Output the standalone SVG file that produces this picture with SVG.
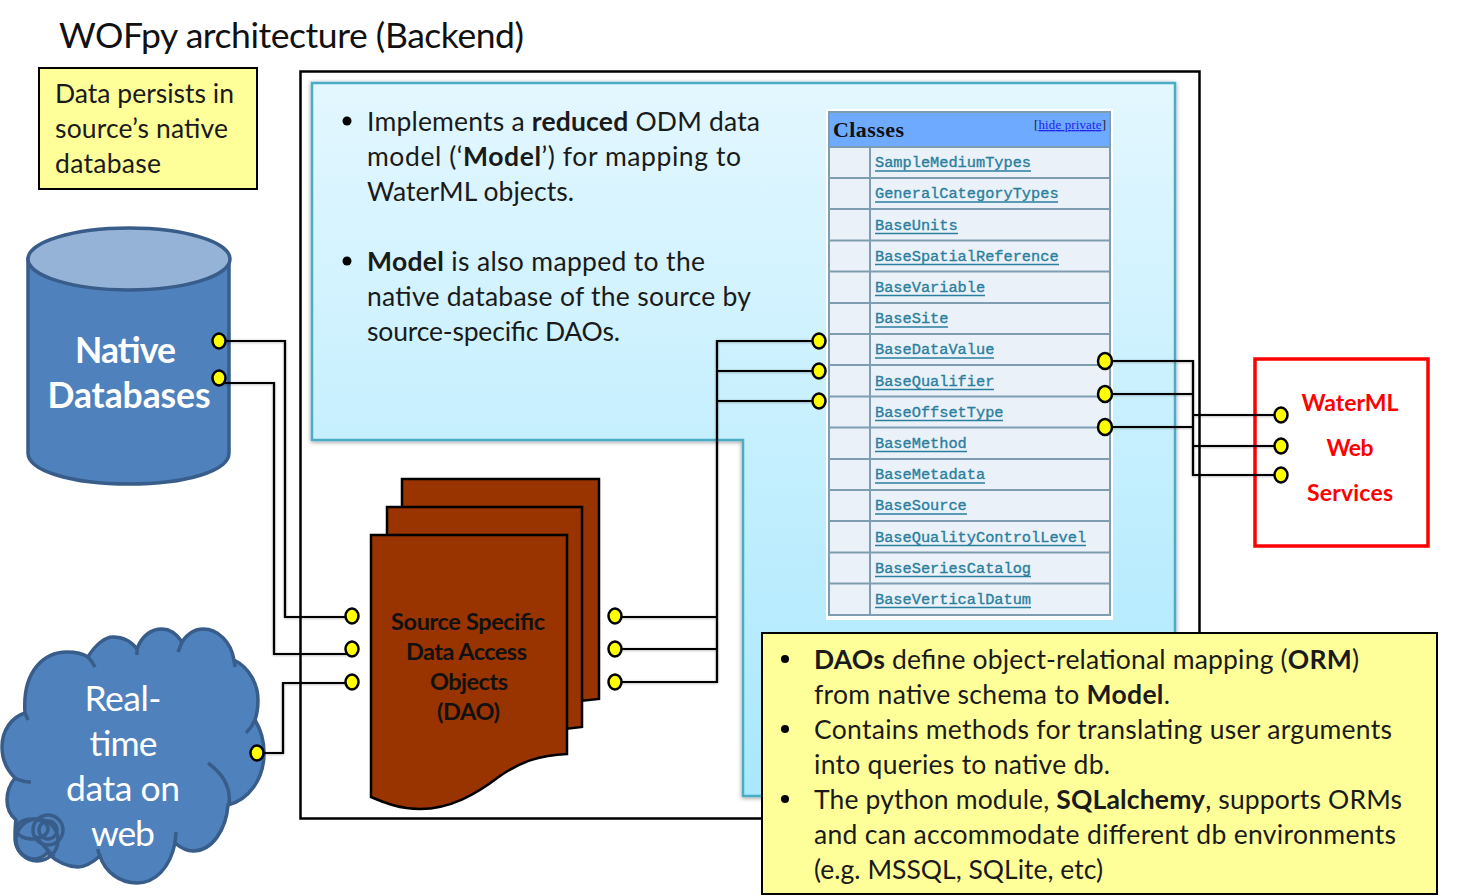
<svg xmlns="http://www.w3.org/2000/svg" width="1464" height="896" viewBox="0 0 1464 896">
<style>
text{font-family:"Lato","Carlito","Liberation Sans",sans-serif}
.body{font-size:26.5px;fill:#1a1a1a}
.b{font-weight:700}
.mid{text-anchor:middle}
.pin{fill:#ffff00;stroke:#000;stroke-width:2.5}
.wire{fill:none;stroke:#000;stroke-width:2.2}
.cls{font-family:"Liberation Mono","DejaVu Sans Mono",monospace;font-size:15.3px;fill:#2a7f9e;stroke:#2a7f9e;stroke-width:.35}
.ul{fill:none;stroke:#2a7f9e;stroke-width:1.6}
.rowl{fill:none;stroke:#7f9db0;stroke-width:2}
.doc{fill:#993300;stroke:#000;stroke-width:2.5}
.blue{fill:#4f81bd;stroke:#385d8a;stroke-width:3.5}
.line{fill:none;stroke:#385d8a;stroke-width:3.5}
.dao{font-size:23.5px;font-weight:700;fill:#111;text-anchor:middle}
.red{font-size:23px;font-weight:700;fill:#ff0000;text-anchor:middle}
.ser{font-family:"Liberation Serif",serif}
</style>
<defs>
<linearGradient id="lb" x1="0" y1="0" x2="0" y2="1">
<stop offset="0" stop-color="#e3f7ff"/><stop offset="1" stop-color="#a9e8fd"/>
</linearGradient>
<filter id="sh" x="-5%" y="-5%" width="110%" height="110%"><feDropShadow dx="0" dy="1" stdDeviation="2" flood-color="#000" flood-opacity=".4"/></filter>
<filter id="wsh" filterUnits="userSpaceOnUse" x="200" y="330" width="1100" height="440"><feDropShadow dx="0" dy="0.500" stdDeviation="0.800" flood-color="#000" flood-opacity=".35"/></filter>
</defs>
<rect width="1464" height="896" fill="#fff"/>
<text id="title" x="59" y="48" font-size="35.500" fill="#111" textLength="465">WOFpy architecture (Backend)</text>
<g id="note-persist">
<rect x="39" y="68" width="218" height="121" fill="#ffff99" stroke="#000" stroke-width="2"/>
<text class="body" x="55" y="103" textLength="179">Data persists in</text>
<text class="body" x="55" y="138" textLength="173">source’s native</text>
<text class="body" x="55" y="173" textLength="106">database</text>
</g>
<g id="backend-frame"><rect x="300.500" y="71.500" width="899" height="747" fill="#fff" stroke="#000" stroke-width="2.500"/></g>
<g id="model-panel">
<path d="M312 83H1175V796H743V440H312Z" fill="url(#lb)" stroke="#4bacc6" stroke-width="2.500" filter="url(#sh)"/>
<circle cx="347" cy="121" r="4.500" fill="#000"/>
<text class="body" x="367" y="131" textLength="393"><tspan>Implements a </tspan><tspan class="b">reduced</tspan><tspan> ODM data</tspan></text>
<text class="body" x="367" y="166" textLength="374"><tspan>model (‘</tspan><tspan class="b">Model</tspan><tspan>’) for mapping to</tspan></text>
<text class="body" x="367" y="201" textLength="207">WaterML objects.</text>
<circle cx="347" cy="261" r="4.500" fill="#000"/>
<text class="body" x="367" y="271" textLength="338"><tspan class="b">Model</tspan><tspan> is also mapped to the</tspan></text>
<text class="body" x="367" y="306" textLength="384">native database of the source by</text>
<text class="body" x="367" y="341" textLength="253">source-specific DAOs.</text>
</g>
<g id="classes-table">
<rect x="826" y="109" width="287" height="511" fill="#fff"/>
<rect x="829" y="112" width="281" height="503" fill="#ebf1f8" stroke="#7f9db0" stroke-width="2"/>
<rect x="829" y="112" width="281" height="35" fill="#6eaaff" stroke="#7f9db0" stroke-width="2"/>
<path class="rowl" d="M870 147V615M829 178H1110M829 209H1110M829 240.500H1110M829 271.500H1110M829 303H1110M829 334H1110M829 365H1110M829 396.500H1110M829 427.500H1110M829 459H1110M829 490H1110M829 521H1110M829 552.500H1110M829 583.500H1110"/>
<text class="ser" x="833" y="137" font-size="22" font-weight="700" fill="#111" textLength="71">Classes</text>
<text class="ser" x="1034" y="129" font-size="13" fill="#222" textLength="72">[<tspan fill="#2222ee" text-decoration="underline">hide private</tspan>]</text>
<text class="cls" x="875" y="167">SampleMediumTypes</text>
<text class="cls" x="875" y="198">GeneralCategoryTypes</text>
<text class="cls" x="875" y="229.500">BaseUnits</text>
<text class="cls" x="875" y="260.500">BaseSpatialReference</text>
<text class="cls" x="875" y="291.500">BaseVariable</text>
<text class="cls" x="875" y="323">BaseSite</text>
<text class="cls" x="875" y="354">BaseDataValue</text>
<text class="cls" x="875" y="385.500">BaseQualifier</text>
<text class="cls" x="875" y="416.500">BaseOffsetType</text>
<text class="cls" x="875" y="447.500">BaseMethod</text>
<text class="cls" x="875" y="479">BaseMetadata</text>
<text class="cls" x="875" y="510">BaseSource</text>
<text class="cls" x="875" y="541.500">BaseQualityControlLevel</text>
<text class="cls" x="875" y="572.500">BaseSeriesCatalog</text>
<text class="cls" x="875" y="603.500">BaseVerticalDatum</text>
<path class="ul" d="M875 171H1031M875 202H1058M875 233.500H958M875 264.500H1059M875 295.500H985M875 327H948M875 358H994M875 389.500H994M875 420.500H1003M875 451.500H967M875 483H985M875 514H967M875 545.500H1086M875 576.500H1031M875 607.500H1031"/>
</g>
<g id="native-databases">
<path class="blue" d="M28 259V453C28 471 72 484 129 484S229 471 229 453V259Z"/>
<ellipse cx="129" cy="259" rx="101" ry="31" fill="#95b3d7" stroke="#385d8a" stroke-width="3.500"/>
<text class="mid b" x="125.500" y="363" font-size="35.500" fill="#fff" textLength="101">Native</text>
<text class="mid b" x="129" y="408" font-size="35.500" fill="#fff" textLength="163">Databases</text>
</g>
<g id="realtime-web">
<path class="blue" d="M25 713C22 670 45 652 67 652C75 652 82 653 88 657C95 645 105 637 113 637C122 637 131 641 137 649C142 635 152 629 162 629C170 629 176 633 182 642C188 633 195 629 203 629C218 629 231 642 234 660C250 668 258 685 258 700C258 708 257 714 255 720C261 730 264 741 264 753C264 780 248 800 228 805C226 830 212 851 193 851C187 851 181 848 175 843C170 868 155 883 137 883C120 883 105 872 100 856C92 863 85 867 78 867C65 867 55 860 47 853C35 866 15 856 15 838C15 830 15 825 16 820C10 815 7 808 7 800C7 790 10 784 15 778C7 770 2 760 2 747C2 730 12 717 25 713Z"/>
<path class="line" d="M25 713L28 720M88 657Q92 661 95 667M137 649L137 655M182 642L178 652M234 660L235 667M255 720Q252 727 246 733M208 763Q232 780 229 805M175 843L176 832M100 856Q98 853 98 849M15 778Q22 782 31 782"/>
<g class="line"><circle cx="37" cy="840" r="21"/><ellipse cx="32" cy="829" rx="16" ry="10"/><circle cx="48" cy="830" r="15"/><circle cx="48" cy="830" r="9"/><path d="M35 836L54 857"/></g>
<g class="mid" font-size="35.500" fill="#fff"><text x="123" y="711" textLength="77">Real-</text><text x="123" y="756" textLength="68">time</text><text x="123" y="801" textLength="114">data on</text><text x="123" y="846" textLength="64">web</text></g>
</g>
<g id="dao-stack">
<path class="doc" d="M402 479H599V699L402 720Z"/>
<path class="doc" d="M387 507H582V727L387 750Z"/>
<path class="doc" d="M371 535H567V754C540 755 520 762 500 776C475 795 450 809 420 809C400 809 385 803 371 797Z"/>
<text class="dao" x="468" y="630" textLength="154">Source Specific</text>
<text class="dao" x="466.500" y="660" textLength="121">Data Access</text>
<text class="dao" x="469" y="690" textLength="78">Objects</text>
<text class="dao" x="468.500" y="720" textLength="63">(DAO)</text>
</g>
<g id="waterml-services">
<rect x="1255" y="359" width="173" height="187" fill="#fff" stroke="#ff0000" stroke-width="3.500"/>
<text class="red" x="1350" y="411" textLength="97">WaterML</text>
<text class="red" x="1350" y="456" textLength="47">Web</text>
<text class="red" x="1350" y="501" textLength="86">Services</text>
</g>
<g id="dao-note">
<rect x="762" y="633" width="675" height="261" fill="#ffff99" stroke="#000" stroke-width="2"/>
<g fill="#000"><circle cx="785" cy="659" r="4"/><circle cx="785" cy="729" r="4"/><circle cx="785" cy="799" r="4"/></g>
<text class="body" x="814" y="669" textLength="545"><tspan class="b">DAOs</tspan><tspan> define object-relational mapping (</tspan><tspan class="b">ORM</tspan><tspan>)</tspan></text>
<text class="body" x="814" y="704" textLength="356"><tspan>from native schema to </tspan><tspan class="b">Model</tspan><tspan>.</tspan></text>
<text class="body" x="814" y="739" textLength="578">Contains methods for translating user arguments</text>
<text class="body" x="814" y="774" textLength="296">into queries to native db.</text>
<text class="body" x="814" y="809" textLength="588"><tspan>The python module, </tspan><tspan class="b">SQLalchemy</tspan><tspan>, supports ORMs</tspan></text>
<text class="body" x="814" y="844" textLength="582">and can accommodate different db environments</text>
<text class="body" x="814" y="879" textLength="289">(e.g. MSSQL, SQLite, etc)</text>
</g>
<g id="connectors">
<g filter="url(#wsh)">
<path class="wire" d="M219 341H285V617H352M219 383H274V654H352M257 753H283V683H352"/>
<path class="wire" d="M615 617H717V341H819M615 649H717V371H819M615 682H717V401H819"/>
<path class="wire" d="M1105 361H1193V475H1281M1105 394H1193M1105 427H1193M1193 415H1281M1193 446H1281"/>
</g>
<g id="pins">
<ellipse class="pin" cx="219" cy="341" rx="6.500" ry="7.500"/><ellipse class="pin" cx="219" cy="378" rx="6.500" ry="7.500"/>
<ellipse class="pin" cx="257" cy="753" rx="6.500" ry="7.500"/>
<ellipse class="pin" cx="352" cy="616" rx="6.500" ry="7.500"/><ellipse class="pin" cx="352" cy="649" rx="6.500" ry="7.500"/><ellipse class="pin" cx="352" cy="682" rx="6.500" ry="7.500"/>
<ellipse class="pin" cx="615" cy="616" rx="6.500" ry="7.500"/><ellipse class="pin" cx="615" cy="649" rx="6.500" ry="7.500"/><ellipse class="pin" cx="615" cy="682" rx="6.500" ry="7.500"/>
<ellipse class="pin" cx="819" cy="341" rx="6.500" ry="7.500"/><ellipse class="pin" cx="819" cy="371" rx="6.500" ry="7.500"/><ellipse class="pin" cx="819" cy="401" rx="6.500" ry="7.500"/>
<ellipse class="pin" cx="1105" cy="361" rx="7" ry="8"/><ellipse class="pin" cx="1105" cy="394" rx="7" ry="8"/><ellipse class="pin" cx="1105" cy="427" rx="7" ry="8"/>
<ellipse class="pin" cx="1281" cy="415" rx="6.500" ry="7.500"/><ellipse class="pin" cx="1281" cy="446" rx="6.500" ry="7.500"/><ellipse class="pin" cx="1281" cy="475" rx="6.500" ry="7.500"/>
</g>
</g>
</svg>
